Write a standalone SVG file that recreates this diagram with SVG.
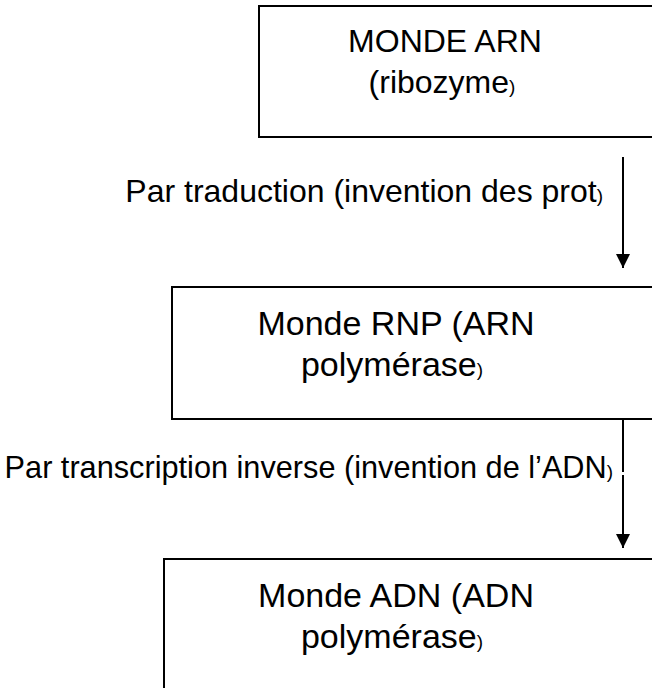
<svg xmlns="http://www.w3.org/2000/svg" width="652" height="688" viewBox="0 0 652 688">
  <style>
    .box { fill: #ffffff; stroke: #000000; stroke-width: 2; }
    .txt { font-family: "Liberation Sans", Arial, sans-serif; fill: #000000; }
    .t1 { font-size: 32px; text-anchor: middle; }
    .t2 { font-size: 34px; text-anchor: middle; }
    .lbl { text-anchor: end; }
    .sm { font-size: 19px; }
    .wire { stroke: #000000; stroke-width: 2; fill: none; }
  </style>
  <defs>
    <marker id="head" viewBox="0 0 14 14" refX="14" refY="7" markerWidth="14" markerHeight="14" markerUnits="userSpaceOnUse" orient="auto">
      <path d="M0,0 L14,7 L0,14 Z" fill="#000000"/>
    </marker>
  </defs>

  <rect width="652" height="688" fill="#ffffff"/>

  <!-- first stage -->
  <g id="monde-arn">
    <rect class="box" x="259" y="6" width="420" height="131"/>
    <text class="txt t1" x="445" y="52">MONDE ARN</text>
    <text class="txt t1" x="442" y="93">(ribozyme<tspan class="sm">)</tspan></text>
  </g>

  <!-- second stage -->
  <g id="monde-rnp">
    <rect class="box" x="172" y="287" width="500" height="132"/>
    <text class="txt t2" x="396" y="335">Monde RNP (ARN</text>
    <text class="txt t2" x="392" y="376">polymérase<tspan class="sm">)</tspan></text>
  </g>

  <!-- third stage -->
  <g id="monde-adn">
    <rect class="box" x="164" y="559" width="520" height="160"/>
    <text class="txt t2" x="396" y="607">Monde ADN (ADN</text>
    <text class="txt t2" x="392" y="648">polymérase<tspan class="sm">)</tspan></text>
  </g>

  <!-- transitions between stages -->
  <g id="connectors">
    <line class="wire" x1="623" y1="157" x2="623" y2="268" marker-end="url(#head)"/>
    <line class="wire" x1="623" y1="420" x2="623" y2="472"/>
    <line class="wire" x1="623" y1="475" x2="623" y2="548" marker-end="url(#head)"/>
    <text class="txt lbl" x="603" y="202" font-size="32">Par traduction (invention des prot<tspan class="sm">)</tspan></text>
    <text class="txt lbl" x="613" y="478" font-size="30.7">Par transcription inverse (invention de l’ADN<tspan class="sm">)</tspan></text>
  </g>
</svg>
